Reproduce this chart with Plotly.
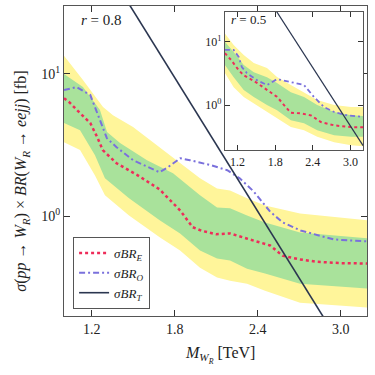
import plotly.graph_objects as go

# ---- main panel, r = 0.8 ----
m_E = [1.0, 1.04, 1.1, 1.19, 1.24, 1.28, 1.38, 1.53, 1.69, 1.84, 1.93, 2.0, 2.1, 2.2, 2.32, 2.49, 2.58, 2.7, 2.83, 3.0, 3.2]
sig_E = [6.76, 6.31, 5.50, 4.52, 3.60, 2.92, 2.36, 1.95, 1.55, 1.10, 0.84, 0.79, 0.75, 0.76, 0.70, 0.625, 0.53, 0.50, 0.48, 0.47, 0.467]

m_O = [1.0, 1.09, 1.19, 1.22, 1.26, 1.31, 1.38, 1.5, 1.62, 1.69, 1.75, 1.84, 1.91, 2.06, 2.18, 2.27, 2.37, 2.49, 2.58, 2.71, 2.95, 3.2]
sig_O = [7.71, 8.09, 7.11, 6.05, 4.74, 3.54, 3.06, 2.48, 2.18, 2.04, 2.21, 2.56, 2.48, 2.29, 2.11, 1.85, 1.50, 1.08, 0.908, 0.796, 0.689, 0.667]

m_T = [1.0, 3.2]
sig_T = [168.0, 0.061]

m_up = [1.0, 1.137, 1.282, 1.354, 1.499, 1.622, 1.788, 1.983, 2.106, 2.2, 2.323, 2.453, 2.706, 3.2]
yel_up = [13.4, 9.07, 5.86, 5.14, 4.24, 3.43, 2.60, 1.85, 1.57, 1.52, 1.34, 1.195, 1.05, 0.937]
m_gup = [1.0, 1.137, 1.26, 1.311, 1.405, 1.60, 1.788, 1.983, 2.106, 2.2, 2.323, 2.453, 2.706, 3.2]
grn_up = [10.0, 8.10, 5.58, 3.91, 3.27, 2.48, 2.01, 1.41, 1.157, 1.14, 1.016, 0.907, 0.771, 0.700]
m_lo = [1.0, 1.116, 1.224, 1.296, 1.47, 1.694, 1.839, 1.983, 2.106, 2.2, 2.323, 2.453, 2.706, 3.2]
grn_lo = [4.52, 4.03, 2.69, 1.85, 1.34, 0.937, 0.759, 0.576, 0.506, 0.490, 0.430, 0.397, 0.337, 0.311]
yel_lo = [3.32, 2.92, 1.94, 1.41, 1.016, 0.711, 0.576, 0.437, 0.372, 0.354, 0.337, 0.301, 0.248, 0.229]

# ---- inset, r = 0.5 ----
mi_E = [1.0, 1.1, 1.22, 1.3, 1.51, 1.67, 1.83, 1.97, 2.05, 2.21, 2.37, 2.53, 2.74, 3.0, 3.2]
si_E = [6.61, 5.13, 3.55, 2.95, 2.24, 1.74, 1.35, 0.93, 0.76, 0.74, 0.69, 0.54, 0.48, 0.45, 0.447]
mi_O = [1.0, 1.14, 1.22, 1.27, 1.35, 1.51, 1.67, 1.75, 1.83, 2.05, 2.26, 2.42, 2.58, 2.74, 2.95, 3.2]
si_O = [7.41, 7.41, 5.75, 3.98, 3.20, 2.48, 2.07, 2.31, 2.57, 2.31, 2.07, 1.34, 0.93, 0.78, 0.69, 0.65]
mi_T = [1.0, 3.2]
si_T = [550.0, 0.23]
mi_b = [1.0, 1.14, 1.30, 1.46, 1.67, 1.83, 2.05, 2.26, 2.47, 2.74, 3.01, 3.2]
yi_up = [13.5, 8.87, 6.17, 4.60, 3.85, 2.77, 2.07, 1.60, 1.20, 1.0, 0.933, 0.933]
gi_up = [10.0, 6.9, 4.29, 3.31, 2.75, 2.24, 1.60, 1.34, 1.0, 0.776, 0.695, 0.676]
gi_lo = [4.3, 2.75, 1.73, 1.34, 1.0, 0.832, 0.579, 0.52, 0.403, 0.336, 0.316, 0.316]
yi_lo = [3.2, 1.92, 1.34, 1.07, 0.776, 0.624, 0.45, 0.403, 0.316, 0.26, 0.233, 0.225]

yellow = "#fff59a"
green = "#a9e29b"
red = "#ee2c5a"
blue = "#7a70dc"
navy = "#2b3650"
serif = "Liberation Serif, DejaVu Serif, serif"

fig = go.Figure()


def band(xu, yu, xl, yl, color, xa, ya):
    fig.add_trace(go.Scatter(x=list(xu) + list(xl)[::-1], y=list(yu) + list(yl)[::-1],
                             fill="toself", fillcolor=color, mode="lines", line=dict(width=0),
                             showlegend=False, hoverinfo="skip", xaxis=xa, yaxis=ya))


band(m_up, yel_up, m_lo, yel_lo, yellow, "x", "y")
band(m_gup, grn_up, m_lo, grn_lo, green, "x", "y")
fig.add_trace(go.Scatter(x=m_E, y=sig_E, mode="lines", name="<i>σBR<sub>E</sub></i>",
                         line=dict(color=red, width=2.5, dash="dot")))
fig.add_trace(go.Scatter(x=m_O, y=sig_O, mode="lines", name="<i>σBR<sub>O</sub></i>",
                         line=dict(color=blue, width=2, dash="6px,3px,2px,3px")))
fig.add_trace(go.Scatter(x=m_T, y=sig_T, mode="lines", name="<i>σBR<sub>T</sub></i>",
                         line=dict(color=navy, width=1.6)))

band(mi_b, yi_up, mi_b, yi_lo, yellow, "x2", "y2")
band(mi_b, gi_up, mi_b, gi_lo, green, "x2", "y2")
fig.add_trace(go.Scatter(x=mi_E, y=si_E, mode="lines", showlegend=False, xaxis="x2", yaxis="y2",
                         line=dict(color=red, width=2, dash="dot")))
fig.add_trace(go.Scatter(x=mi_O, y=si_O, mode="lines", showlegend=False, xaxis="x2", yaxis="y2",
                         line=dict(color=blue, width=1.8, dash="5px,3px,2px,3px")))
fig.add_trace(go.Scatter(x=mi_T, y=si_T, mode="lines", showlegend=False, xaxis="x2", yaxis="y2",
                         line=dict(color=navy, width=1.2)))

frame = dict(showline=True, linecolor="#555555", linewidth=1.3, mirror="ticks", ticks="inside",
             tickcolor="#333333", showgrid=False, zeroline=False)
xticks = [1.2, 1.8, 2.4, 3.0]
xtext = ["1.2", "1.8", "2.4", "3.0"]
yticks = [1, 10]
ytext = ["10<sup>0</sup>", "10<sup>1</sup>"]

fig.update_layout(
    width=375, height=375,
    margin=dict(l=64, r=8, t=6, b=59),
    paper_bgcolor="white", plot_bgcolor="white",
    font=dict(family=serif, size=14, color="#222222"),
    xaxis=dict(range=[1.0, 3.19], tickvals=xticks, ticktext=xtext, ticklen=6,
               tickfont=dict(size=14), **frame),
    yaxis=dict(type="log", range=[-0.699, 1.477], tickvals=yticks, ticktext=ytext, ticklen=6,
               tickfont=dict(size=14), **frame),
    xaxis2=dict(domain=[0.531, 0.987], anchor="y2", range=[1.0, 3.2], tickvals=xticks,
                ticktext=xtext, ticklen=5, tickfont=dict(size=12), **frame),
    yaxis2=dict(domain=[0.535, 0.981], anchor="x2", type="log", range=[-0.71, 1.47],
                tickvals=yticks, ticktext=ytext, ticklen=5, tickfont=dict(size=12), **frame),
    legend=dict(x=0.03, y=0.255, xanchor="left", yanchor="top", bgcolor="white",
                bordercolor="#555555", borderwidth=1, font=dict(size=13), tracegroupgap=0,
                itemwidth=30),
    showlegend=True,
)

fig.add_annotation(text="<i>r</i> = 0.8", xref="paper", yref="paper", x=0.048, y=0.955,
                   xanchor="left", yanchor="middle", showarrow=False, font=dict(size=15))
fig.add_annotation(text="<i>r</i> = 0.5", xref="paper", yref="paper", x=0.545, y=0.955,
                   xanchor="left", yanchor="middle", showarrow=False, font=dict(size=13))
fig.add_annotation(text="<i>σ</i>(<i>pp</i> → <i>W<sub>R</sub></i>) × <i>BR</i>(<i>W<sub>R</sub></i> → <i>eejj</i>) [fb]",
                   xref="paper", yref="paper", x=-0.14, y=0.435, textangle=-90,
                   xanchor="center", yanchor="middle", showarrow=False, font=dict(size=16))
fig.add_annotation(text="<i>M<sub>W<sub>R</sub></sub></i> [TeV]", xref="paper", yref="paper",
                   x=0.515, y=-0.125, xanchor="center", yanchor="middle", showarrow=False,
                   font=dict(size=16))

# the page body has a default 8px margin; drop it so the figure sits at the window corner
fig.write_html("out.html", config={"displayModeBar": False},
               post_script="document.body.style.margin='0';")
